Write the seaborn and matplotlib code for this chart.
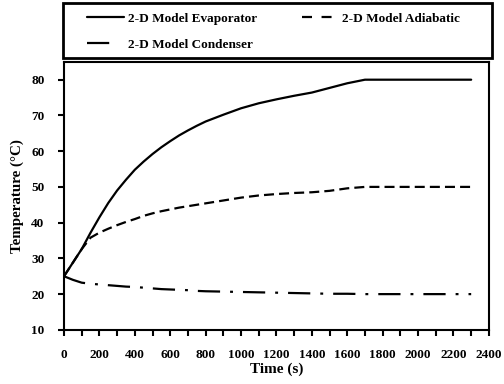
import matplotlib
matplotlib.use('Agg')
import matplotlib.pyplot as plt
from matplotlib.lines import Line2D
from matplotlib.patches import Rectangle
from matplotlib.ticker import MultipleLocator
import seaborn as sns
import pandas as pd

time_s = [0, 50, 100, 150, 200, 250, 300, 350, 400, 450, 500, 550, 600, 650, 700, 750,
          800, 900, 1000, 1100, 1200, 1300, 1400, 1500, 1600, 1700, 1800, 1900,
          2000, 2100, 2200, 2300]
evaporator = [25, 28.8, 32.6, 37.2, 41.5, 45.5, 49, 52, 54.8, 57.1, 59.2, 61.1, 62.8, 64.4, 65.8, 67.1,
              68.3, 70.2, 72, 73.4, 74.5, 75.5, 76.4, 77.7, 79, 80, 80, 80,
              80, 80, 80, 80]
adiabatic = [25, 28.8, 32.6, 35.8, 37.2, 38.3, 39.3, 40.2, 41, 41.9, 42.6, 43.2, 43.7, 44.2, 44.6, 45,
             45.4, 46.2, 47, 47.6, 48, 48.3, 48.5, 48.9, 49.6, 50, 50, 50,
             50, 50, 50, 50]
condenser = [25, 24, 23.2, 22.9, 22.7, 22.5, 22.3, 22.1, 22, 21.8, 21.6, 21.4, 21.3, 21.2, 21.1, 20.9,
             20.8, 20.7, 20.6, 20.5, 20.4, 20.3, 20.2, 20.1, 20.1, 20, 20, 20,
             20, 20, 20, 20]
names = ['2-D Model Evaporator', '2-D Model Adiabatic', '2-D Model Condenser']

sns.set_theme(style='ticks')
plt.rcParams['font.family'] = ['Liberation Serif', 'DejaVu Serif']
plt.rcParams['font.weight'] = 'bold'
plt.rcParams['axes.labelweight'] = 'bold'
for k in ['text.color', 'axes.labelcolor', 'xtick.color', 'ytick.color', 'axes.edgecolor']:
    plt.rcParams[k] = 'black'

df = pd.DataFrame({
    'Time': time_s * 3,
    'Temp': evaporator + adiabatic + condenser,
    'Series': [n for n in names for _ in time_s],
})

dashes = {names[0]: '', names[1]: (4.5, 2.3), names[2]: (10, 4.5, 1.3, 4.5)}
lw = 1.6

fig = plt.figure(figsize=(5.04, 3.84), dpi=100)
ax = fig.add_axes([0.127, 0.141, 0.843, 0.698])
sns.lineplot(data=df, x='Time', y='Temp', style='Series', dashes=dashes,
             color='black', linewidth=lw, ax=ax, legend=False)

ax.set_xlim(0, 2400)
ax.set_ylim(10, 85)
ax.xaxis.set_major_locator(MultipleLocator(200))
ax.xaxis.set_minor_locator(MultipleLocator(100))
ax.set_yticks(range(10, 81, 10))
ax.tick_params(axis='both', which='both', direction='out', length=4, width=1.5, pad=10, labelsize=9.5)
for s in ax.spines.values():
    s.set_linewidth(1.5)
ax.set_xlabel('Time (s)', fontsize=11, labelpad=1)
ax.set_ylabel('Temperature (°C)', fontsize=10.8, labelpad=5)

# legend keys: shorter dash patterns so the keys look like the original
handles = [
    Line2D([], [], color='black', lw=lw, linestyle='-'),
    Line2D([], [], color='black', lw=lw, dashes=(4.5, 4.3)),
    Line2D([], [], color='black', lw=lw, dashes=(10, 8)),
]
order = [0, 2, 1]
fig.legend([handles[i] for i in order], [names[i] for i in order],
           loc='upper left', bbox_to_anchor=(0.172, 0.968), ncol=2, frameon=False,
           fontsize=9.5, handlelength=2.8, handletextpad=0.3, columnspacing=3.4,
           labelspacing=1.05, borderpad=0, borderaxespad=0)
fig.add_artist(Rectangle((0.125, 0.849), 0.851, 0.143, transform=fig.transFigure,
                         fill=False, lw=2, ec='black'))

fig.savefig('out.png', dpi=100)
